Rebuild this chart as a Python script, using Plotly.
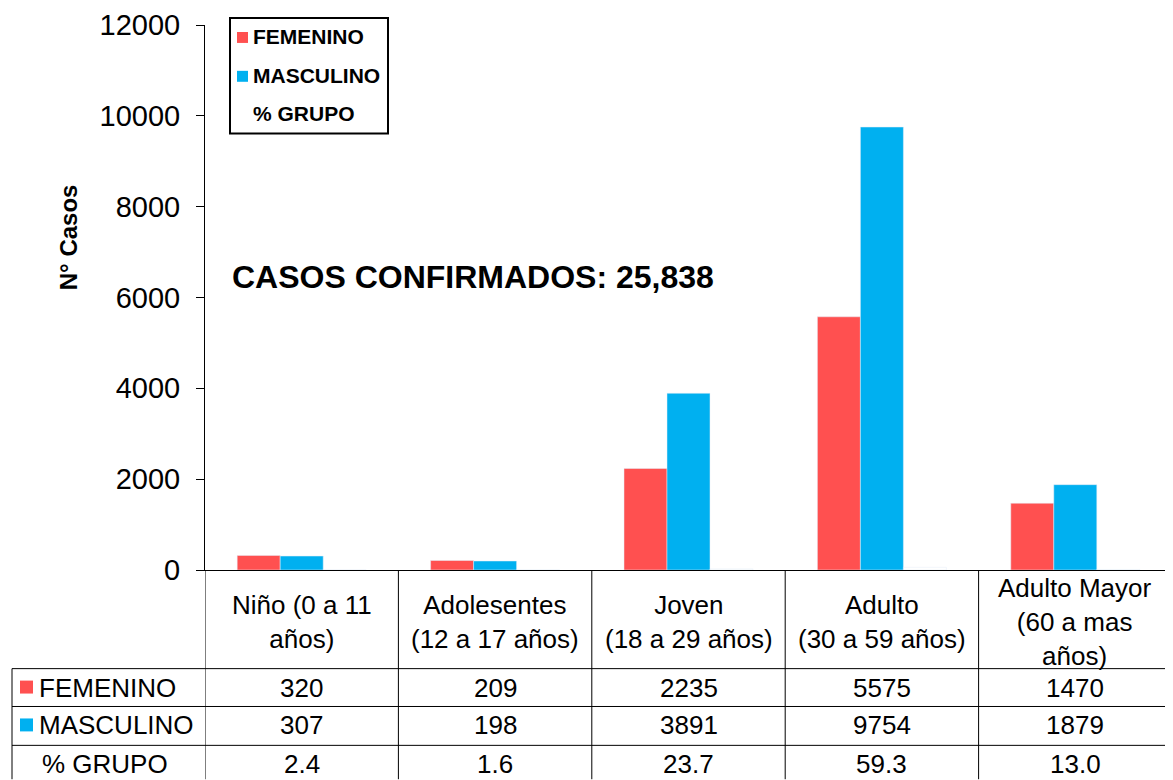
import plotly.graph_objects as go

categorias = ["Niño (0 a 11<br>años)", "Adolesentes<br>(12 a 17 años)", "Joven<br>(18 a 29 años)",
              "Adulto<br>(30 a 59 años)", "Adulto Mayor<br>(60 a mas<br>años)"]
femenino = [320, 209, 2235, 5575, 1470]
masculino = [307, 198, 3891, 9754, 1879]
pct_grupo = [2.4, 1.6, 23.7, 59.3, 13.0]
total_casos = 25838

ROJO = "#FF5050"
AZUL = "#00B0F0"
FONT = "Liberation Sans, Arial, sans-serif"

# page body has an 8px margin, so the figure starts at (8, 8) in the window
OFF = 8
W, H = 1173 - OFF, 780 - OFF
L, R, T, B = 205 - OFF, 1, 23 - OFF, 210
ph = H - T - B
pw = W - L - R


def py(pix):
    # window pixel row -> paper y
    return (H - B - (pix - OFF)) / ph


def px_(pix):
    # window pixel column -> paper x
    return (pix - OFF - L) / pw


fig = go.Figure()
fig.add_trace(go.Bar(x=categorias, y=femenino, name="FEMENINO", marker_color=ROJO))
fig.add_trace(go.Bar(x=categorias, y=masculino, name="MASCULINO", marker_color=AZUL))
# % GRUPO is a third (invisible) series: it only shifts the bar groups left
fig.add_trace(go.Bar(x=categorias, y=pct_grupo, name="% GRUPO", marker_color="rgba(0,0,0,0)"))

line = dict(color="black", width=1)
shapes = []
annotations = []

# table grid
for i in range(len(categorias) + 1):
    shapes.append(dict(type="line", xref="x", yref="paper", x0=i - 0.5, x1=i - 0.5,
                       y0=py(570), y1=py(780), line=line))
for r in [669, 707, 746]:
    shapes.append(dict(type="line", xref="paper", yref="paper", x0=px_(12), x1=1,
                       y0=py(r), y1=py(r), line=line))
shapes.append(dict(type="line", xref="paper", yref="paper", x0=px_(12), x1=px_(12),
                   y0=py(669), y1=py(780), line=line))

# header cells
for c in categorias:
    annotations.append(dict(x=c, y=py(622), xref="x", yref="paper", text=c, showarrow=False,
                            yanchor="middle", xanchor="center",
                            font=dict(size=26, family=FONT, color="black"), align="center"))

# data rows
rows = [
    ("FEMENINO", ROJO, [str(v) for v in femenino], 688),
    ("MASCULINO", AZUL, [str(v) for v in masculino], 726),
    ("% GRUPO", None, [f"{v:.1f}" for v in pct_grupo], 765),
]
for label, color, vals, yc in rows:
    if color:
        shapes.append(dict(type="rect", xref="paper", yref="paper", x0=px_(20), x1=px_(33),
                           y0=py(yc + 6), y1=py(yc - 7), fillcolor=color, line=dict(width=0)))
    annotations.append(dict(x=px_(37 if color else 40), y=py(yc), xref="paper", yref="paper",
                            text=label, showarrow=False, xanchor="left", yanchor="middle",
                            font=dict(size=26, family=FONT, color="black")))
    for c, v in zip(categorias, vals):
        annotations.append(dict(x=c, y=py(yc), xref="x", yref="paper", text=v, showarrow=False,
                                xanchor="center", yanchor="middle",
                                font=dict(size=26, family=FONT, color="black")))

# legend box
shapes.append(dict(type="rect", xref="paper", yref="paper", x0=px_(230), x1=px_(388),
                   y0=py(132), y1=py(16), fillcolor="white", line=dict(color="black", width=2)))
for label, color, yc in [("FEMENINO", ROJO, 35), ("MASCULINO", AZUL, 74), ("% GRUPO", None, 112)]:
    if color:
        shapes.append(dict(type="rect", xref="paper", yref="paper", x0=px_(237), x1=px_(248),
                           y0=py(yc + 6), y1=py(yc - 5), fillcolor=color, line=dict(width=0)))
    annotations.append(dict(x=px_(251), y=py(yc), xref="paper", yref="paper", text=label,
                            showarrow=False, xanchor="left", yanchor="middle",
                            font=dict(size=21, family=FONT, color="black", weight="bold")))

annotations.append(dict(x=px_(230), y=py(276), xref="paper", yref="paper", xanchor="left",
                        yanchor="middle",
                        text=f"CASOS CONFIRMADOS: {total_casos:,}", showarrow=False,
                        font=dict(size=32, family=FONT, color="black", weight="bold")))

# y axis title (sits above the plot centre in the original)
annotations.append(dict(x=px_(68), y=py(236), xref="paper", yref="paper", xanchor="center",
                        yanchor="middle", textangle=-90, text="N° Casos", showarrow=False,
                        font=dict(size=24, family=FONT, color="black", weight="bold")))

fig.update_layout(
    width=W, height=H,
    margin=dict(l=L, r=R, t=T, b=B),
    paper_bgcolor="white", plot_bgcolor="white",
    barmode="group", bargap=0.333, bargroupgap=0,
    font=dict(family=FONT, color="black"),
    showlegend=False,
    shapes=shapes,
    annotations=annotations,
)
fig.update_xaxes(showticklabels=False, showline=True, linecolor="black", linewidth=1,
                 ticks="", showgrid=False, range=[-0.5, len(categorias) - 0.5])
fig.update_yaxes(range=[0, 12000.5], dtick=2000, tickformat="d", showline=True,
                 linecolor="black", linewidth=1,
                 ticks="outside", ticklen=8, tickcolor="black", showgrid=False, zeroline=False,
                 ticklabelstandoff=10, ticklabeloverflow="allow",
                 tickfont=dict(size=29, family=FONT, color="black"))

fig.write_html("out.html")
